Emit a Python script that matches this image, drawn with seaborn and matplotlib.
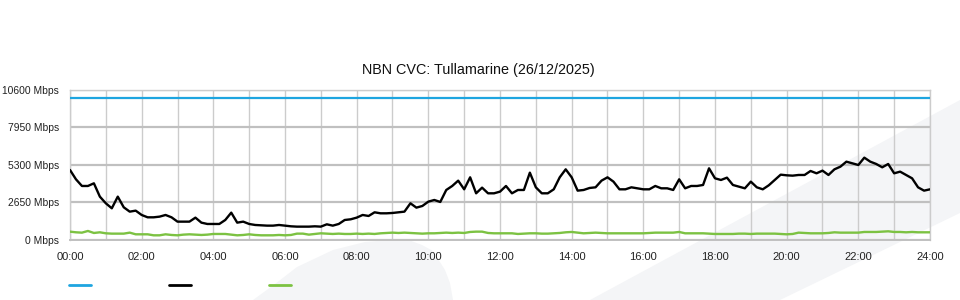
import numpy as np
import pandas as pd
import matplotlib
matplotlib.use("Agg")
import matplotlib.pyplot as plt
from matplotlib.patches import Polygon
from matplotlib.lines import Line2D
import seaborn as sns

# ---------------- data (10-minute samples, Mbps) ----------------
title = "NBN CVC: Tullamarine (26/12/2025)"
x_tick_hours = [0, 2, 4, 6, 8, 10, 12, 14, 16, 18, 20, 22, 24]
x_tick_labels = ["00:00", "02:00", "04:00", "06:00", "08:00", "10:00", "12:00",
                 "14:00", "16:00", "18:00", "20:00", "22:00", "24:00"]
y_ticks = [0, 2650, 5300, 7950, 10600]
y_tick_labels = ["0 Mbps", "2650 Mbps", "5300 Mbps", "7950 Mbps", "10600 Mbps"]

capacity = [10000, 10000]
capacity_hours = [0, 24]

traffic_in = [
    4929, 4267, 3795, 3795, 3984, 3039,
    2566, 2212, 3039, 2283, 1975, 2046,
    1739, 1573, 1573, 1621, 1739, 1573,
    1266, 1266, 1266, 1550, 1195, 1101,
    1101, 1101, 1384, 1904, 1195, 1266,
    1101, 1030, 1006, 983, 983, 1030,
    983, 935, 912, 912, 912, 935,
    912, 1077, 983, 1101, 1384, 1432,
    1550, 1739, 1668, 1928, 1857, 1857,
    1881, 1928, 1975, 2566, 2259, 2377,
    2684, 2802, 2661, 3511, 3795, 4173,
    3558, 4409, 3275, 3677, 3275, 3275,
    3393, 3795, 3275, 3511, 3511, 4740,
    3700, 3275, 3275, 3558, 4409, 4976,
    4409, 3464, 3511, 3653, 3700, 4173,
    4409, 4102, 3558, 3558, 3700, 3629,
    3558, 3558, 3795, 3629, 3629, 3511,
    4267, 3629, 3795, 3795, 3866, 5047,
    4338, 4220, 4385, 3866, 3748, 3629,
    4102, 3700, 3558, 3842, 4220, 4598,
    4551, 4527, 4575, 4575, 4858, 4693,
    4882, 4575, 4976, 5165, 5519, 5402,
    5283, 5803, 5519, 5354, 5118, 5354,
    4693, 4811, 4575, 4338, 3700, 3464,
    3558,
]

traffic_out = [
    557, 510, 486, 605, 463, 510,
    439, 416, 416, 416, 486, 368,
    368, 368, 297, 297, 368, 321,
    297, 345, 368, 345, 321, 345,
    392, 392, 392, 345, 297, 321,
    368, 321, 297, 297, 297, 321,
    297, 321, 416, 416, 345, 392,
    439, 416, 392, 416, 392, 392,
    416, 392, 416, 392, 439, 463,
    486, 463, 486, 463, 439, 416,
    439, 439, 463, 486, 463, 486,
    463, 534, 557, 557, 463, 439,
    439, 439, 439, 392, 416, 439,
    439, 416, 416, 439, 463, 510,
    534, 486, 439, 463, 486, 463,
    439, 439, 439, 439, 439, 439,
    439, 463, 486, 486, 486, 486,
    534, 439, 439, 439, 439, 416,
    392, 392, 392, 392, 416, 416,
    392, 416, 416, 416, 416, 392,
    368, 392, 486, 463, 439, 439,
    439, 463, 510, 486, 486, 486,
    486, 534, 534, 534, 557, 581,
    534, 534, 510, 534, 510, 510,
    510,
]

hours = np.arange(len(traffic_in)) / 6.0
df = pd.DataFrame({"hour": hours, "in": traffic_in, "out": traffic_out})

# ---------------- style ----------------
sns.set_style("white")
plt.rcParams["font.family"] = ["Liberation Sans", "DejaVu Sans"]

BLUE = "#1ea5e0"
BLACK = "#000000"
GREEN = "#7cc242"
WM = "#f4f5f7"

fig = plt.figure(figsize=(9.6, 3.0), dpi=100)
fig.patch.set_facecolor("white")

# background watermark shapes (figure pixel coords -> fraction)
def px(pts):
    return [(x / 960.0, 1 - y / 300.0) for x, y in pts]

band = Polygon(px([(590, 300), (960, 100), (960, 213), (780, 300)]),
               closed=True, transform=fig.transFigure, facecolor=WM,
               edgecolor="none", zorder=-10)
fin = Polygon(px([(253, 300), (275, 284), (297, 267), (333, 250), (365, 242),
                  (395, 239.5), (410, 240.5), (422, 245), (433, 251),
                  (445, 270), (450, 283), (453, 300)]),
              closed=True, transform=fig.transFigure, facecolor=WM,
              edgecolor="none", zorder=-10)
fig.patches.extend([band, fin])

ax = fig.add_axes([70 / 960, 1 - 239.5 / 300, 860 / 960, 149.5 / 300])
ax.set_zorder(1)
ax.set_facecolor("none")
ax.patch.set_alpha(0)

sns.lineplot(x=capacity_hours, y=capacity, color=BLUE, linewidth=1.6, ax=ax,
             zorder=3)
sns.lineplot(data=df, x="hour", y="in", color=BLACK, linewidth=1.7, ax=ax,
             zorder=4)
sns.lineplot(data=df, x="hour", y="out", color=GREEN, linewidth=1.7, ax=ax,
             zorder=3)

ax.set_xlim(0, 24)
ax.set_ylim(0, 10600)
ax.set_xlabel("")
ax.set_ylabel("")

ax.set_xticks(x_tick_hours)
ax.set_xticklabels(x_tick_labels)
ax.set_xticks(list(range(1, 24, 2)), minor=True)
ax.set_yticks(y_ticks)
ax.set_yticklabels(y_tick_labels)

ax.tick_params(axis="x", which="major", length=6.5, width=1, color="#c4c4c4",
               pad=2.5, labelsize=8.0, labelcolor="#222222", direction="out")
ax.tick_params(axis="x", which="minor", length=0)
ax.tick_params(axis="y", length=0, pad=8, labelsize=7.4, labelcolor="#222222")

ax.grid(True, axis="x", which="both", color="#cccccc", linewidth=1.0, zorder=1)
ax.grid(True, axis="y", which="major", color="#c0c0c0", linewidth=1.6, zorder=1)

for side in ["top", "right", "left"]:
    ax.spines[side].set_visible(True)
    ax.spines[side].set_color("#cccccc")
    ax.spines[side].set_linewidth(1.0)
ax.spines["bottom"].set_color("#c0c0c0")
ax.spines["bottom"].set_linewidth(1.4)

fig.text(478 / 960, 1 - 70 / 300, title, ha="center", va="center",
         fontsize=10.4, color="#111111")

handles = [Line2D([], [], color=BLUE, linewidth=2.0),
           Line2D([], [], color=BLACK, linewidth=2.0),
           Line2D([], [], color=GREEN, linewidth=2.0)]
fig.legend(handles, ["", "", ""], loc="center left",
           bbox_to_anchor=(69 / 960, 1 - 285 / 300), ncol=3, frameon=False,
           fontsize=7.2, handlelength=2.2, handletextpad=0.0,
           columnspacing=7.8, borderpad=0, borderaxespad=0)

fig.savefig("out.png", dpi=100, facecolor="white")
